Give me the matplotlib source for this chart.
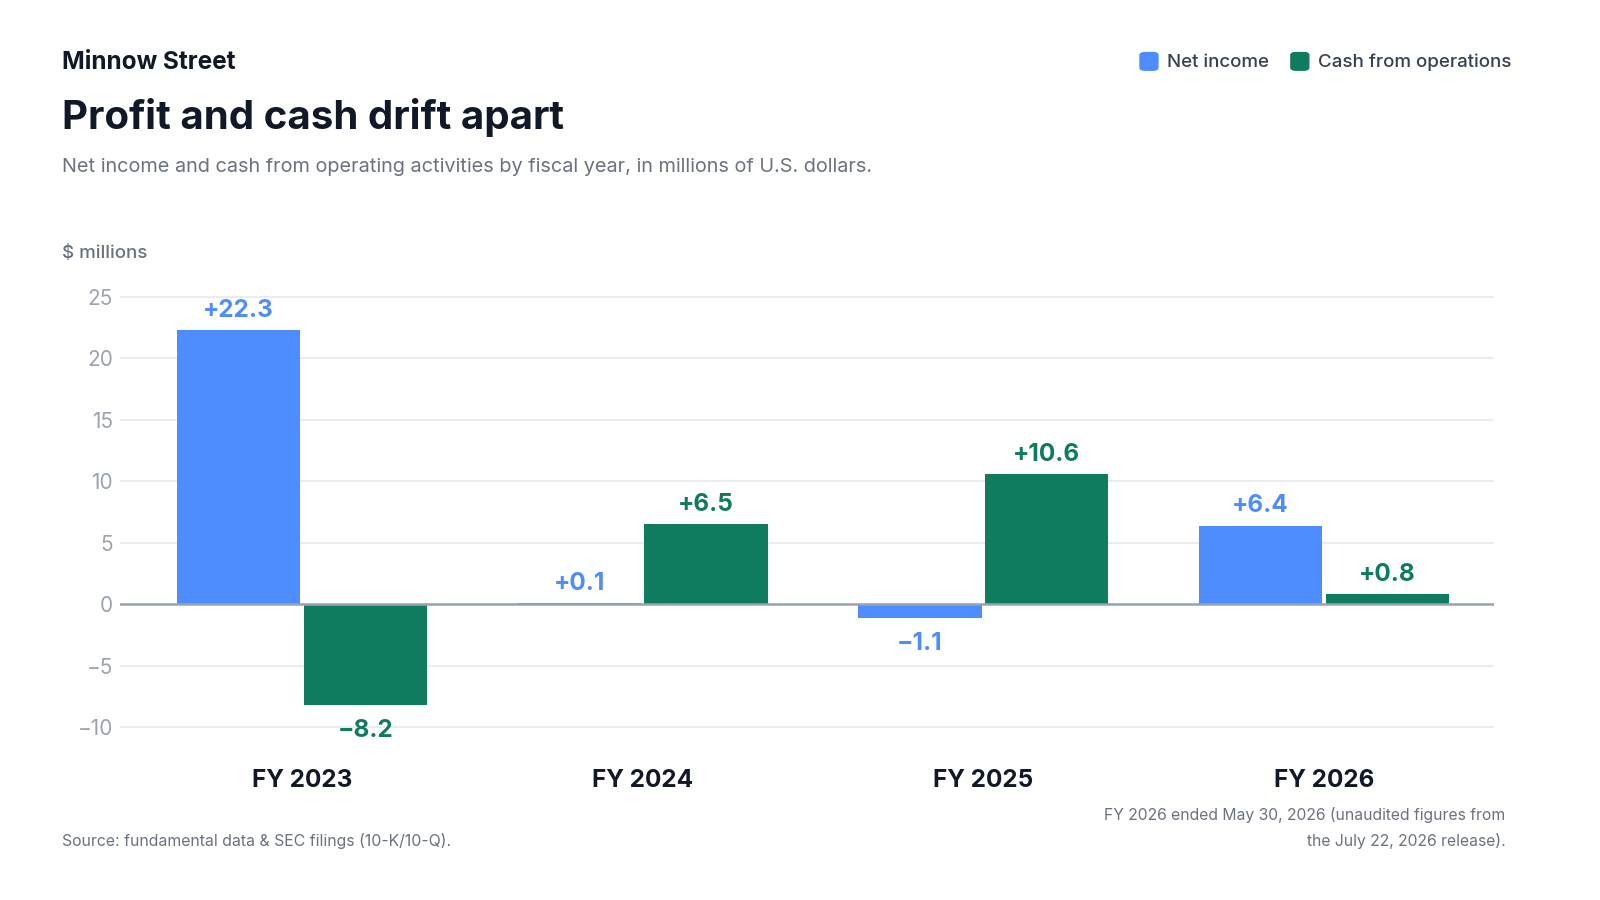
import matplotlib.pyplot as plt
import numpy as np
from matplotlib.patches import FancyBboxPatch

# data
years = ["FY 2023", "FY 2024", "FY 2025", "FY 2026"]
net_income = [22.3, 0.1, -1.1, 6.4]
cash_ops = [-8.2, 6.5, 10.6, 0.8]
y_ticks = [-10, -5, 0, 5, 10, 15, 20, 25]

BLUE = "#4d8dff"
GREEN = "#0f7b5f"
DARK = "#111827"
GREY = "#6b7280"
LIGHT = "#9ca3af"

plt.rcParams["font.family"] = ["Inter", "DejaVu Sans"]


def fmt(v):
  s = f"{abs(v):.1f}"
  return ("+" if v >= 0 else "\u2212") + s


def main():
  fig = plt.figure(figsize=(16, 9), dpi=100)
  ax = fig.add_axes([0.075, 0.1813, 0.859, 0.5091])

  x = np.arange(len(years))
  w = 0.362
  off = 0.186
  ax.bar(x - off, net_income, w, color=BLUE, zorder=2)
  ax.bar(x + off, cash_ops, w, color=GREEN, zorder=2)

  for xs, vals, col in [(x - off, net_income, BLUE), (x + off, cash_ops, GREEN)]:
    for xi, v in zip(xs, vals):
      if v >= 0:
        ax.annotate(fmt(v), (xi, v), xytext=(0, 6), textcoords="offset points",
                    ha="center", va="bottom", color=col, fontsize=17.5, fontweight="bold")
      else:
        ax.annotate(fmt(v), (xi, v), xytext=(0, -10), textcoords="offset points",
                    ha="center", va="top", color=col, fontsize=17.5, fontweight="bold")

  ax.set_xlim(-0.534, 3.5)
  ax.set_ylim(-10.8, 26.5)
  ax.set_yticks(y_ticks)
  ax.set_yticklabels([("\u2212" + str(-t)) if t < 0 else str(t) for t in y_ticks])
  ax.set_xticks(x)
  ax.set_xticklabels(years)
  ax.grid(axis="y", color="#e8eaee", linewidth=1.3, zorder=0)
  ax.axhline(0, color="#9aa3b2", linewidth=1.8, zorder=3)
  for s in ax.spines.values():
    s.set_visible(False)
  ax.tick_params(axis="y", length=0, pad=5, labelsize=15, labelcolor=LIGHT)
  ax.tick_params(axis="x", length=0, pad=23, labelsize=17.5, labelcolor=DARK)
  for lab in ax.get_xticklabels():
    lab.set_fontweight("bold")

  # header
  fig.text(0.039, 0.931, "Minnow Street", fontsize=17.5, fontweight="bold", color=DARK, va="center")
  fig.text(0.039, 0.869, "Profit and cash drift apart", fontsize=29, fontweight="bold", color=DARK, va="center")
  fig.text(0.039, 0.815, "Net income and cash from operating activities by fiscal year, in millions of U.S. dollars.",
           fontsize=14.3, color=GREY, va="center")
  fig.text(0.039, 0.718, "$ millions", fontsize=13.5, color=GREY, va="center", fontweight="medium")

  # legend
  items = [("Net income", BLUE, 0.7125), ("Cash from operations", GREEN, 0.8068)]
  for label, col, lx in items:
    fig.patches.append(FancyBboxPatch((lx, 0.922), 0.0112, 0.0196,
                                      boxstyle="round,pad=0,rounding_size=0.003",
                                      transform=fig.transFigure, color=col, figure=fig))
    fig.text(lx + 0.017, 0.931, label, fontsize=13.5, color="#374151", va="center", fontweight="medium")

  # footer
  fig.text(0.039, 0.066, "Source: fundamental data & SEC filings (10-K/10-Q).", fontsize=11.4, color=GREY, va="center")
  fig.text(0.941, 0.080, "FY 2026 ended May 30, 2026 (unaudited figures from\nthe July 22, 2026 release).",
           fontsize=11.3, color=GREY, ha="right", va="center", linespacing=1.75)

  fig.savefig("out.png", dpi=100, facecolor="white")


if __name__ == "__main__":
  main()
